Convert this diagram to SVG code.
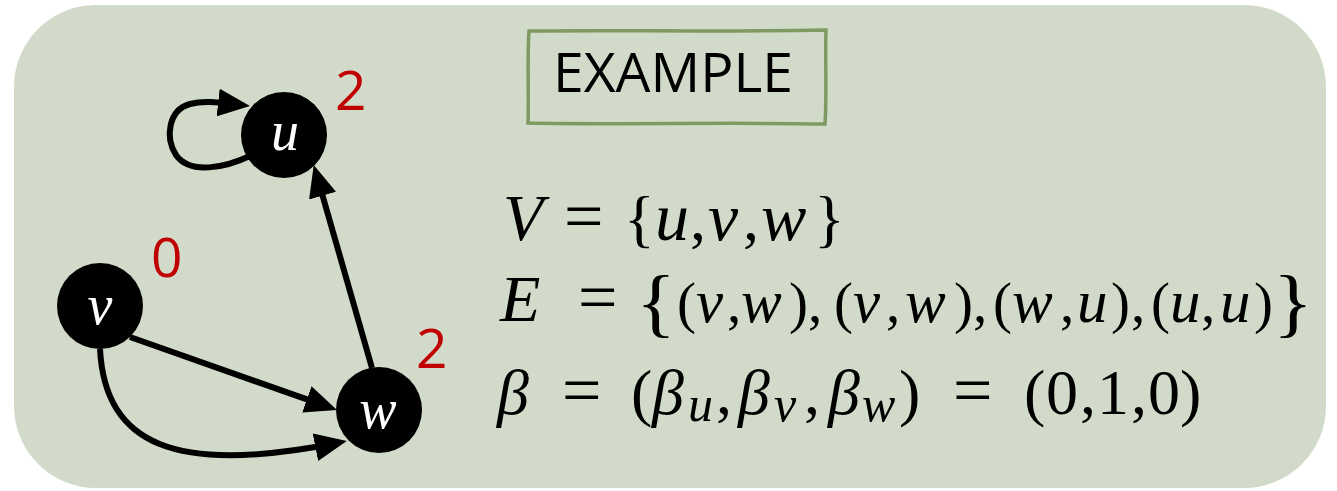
<svg xmlns="http://www.w3.org/2000/svg" width="1337" height="491" viewBox="0 0 1337 491">
<style>
.bg{fill:#D2DBC9}
.node{fill:#000}
.nl{fill:#fff;font-family:'Liberation Serif',serif;font-style:italic;font-size:56px;text-anchor:middle}
.num{fill:#C00000;font-family:'Open Sans','Liberation Sans',sans-serif;font-size:55px}
.edge{fill:none;stroke:#000;stroke-width:6}
.m{font-family:'Liberation Serif',serif;font-size:64px;fill:#000}
.i{font-family:'Liberation Serif',serif;font-style:italic}
.eq{font-size:70px}
.sub{font-family:'Liberation Serif',serif;font-size:50px;font-style:italic}
.title{font-family:'Open Sans','Liberation Sans',sans-serif;font-size:54px;fill:#000}
</style>
<defs>
<marker id="arr" markerUnits="userSpaceOnUse" markerWidth="32" markerHeight="28" viewBox="0 0 32 28" refX="22" refY="14" orient="auto">
<path d="M0,0 L32,14 L0,28 z" fill="#000"/>
</marker>
</defs>
<rect class="bg" x="14" y="5" width="1312" height="483" rx="82" ry="82"/>
<g id="title">
<path d="M529,31 C620,30 720,32 826,30 C825,60 827,95 825,124 C720,122 620,125 528,123 C529,95 527,60 529,31 z" fill="none" stroke="#7E9A60" stroke-width="3.5"/>
<text class="title" x="553" y="92" textLength="240" lengthAdjust="spacingAndGlyphs">EXAMPLE</text>
</g>
<g id="connectors">
<path class="edge" d="M372,368 L316.5,174.5" marker-end="url(#arr)"/>
<path class="edge" d="M130,337 L327.6,406.7" marker-end="url(#arr)"/>
<path class="edge" d="M100,349 C105,445 175,475 337,443" marker-end="url(#arr)"/>
<path class="edge" d="M252,155 C225,168 190,175 176,155 C165,138 168,110 190,104 C205,100 222,103 240,105" marker-end="url(#arr)"/>
</g>
<g id="node-u">
<circle class="node" cx="284" cy="135" r="43"/>
<text class="nl" x="285" y="150">u</text>
<text class="num" x="335" y="110">2</text>
</g>
<g id="node-v">
<circle class="node" cx="100" cy="306" r="43"/>
<text class="nl" x="100" y="324">v</text>
<text class="num" x="151" y="277">0</text>
</g>
<g id="node-w">
<circle class="node" cx="379" cy="410" r="43"/>
<text class="nl" x="378" y="428">w</text>
<text class="num" x="416" y="368">2</text>
</g>
<g id="formulas">
<text class="m" y="240"><tspan class="i" x="503" style="font-size:66px">V</tspan><tspan class="eq" x="564">=</tspan><tspan x="624">{</tspan><tspan class="i" x="655" style="font-size:68px">u</tspan><tspan x="690">,</tspan><tspan class="i" x="708" style="font-size:68px">v</tspan><tspan x="743">,</tspan><tspan class="i" x="761" style="font-size:68px">w</tspan><tspan x="814">}</tspan></text>
<text class="m" y="321"><tspan class="i" x="500" style="font-size:66px">E</tspan><tspan class="eq" x="578">=</tspan></text>
<text class="m" x="636" y="328" transform="translate(636 328) scale(1.3 1.2) translate(-636 -328)">{</text>
<text class="m" x="1273" y="328" transform="translate(1273 328) scale(1.3 1.2) translate(-1273 -328)">}</text>
<text class="m" y="322" style="font-size:57px"><tspan x="677">(</tspan><tspan class="i" x="696" style="font-size:61px">v</tspan><tspan x="727">,</tspan><tspan class="i" x="741" style="font-size:61px">w</tspan><tspan x="789">)</tspan><tspan x="808">,</tspan><tspan x="834">(</tspan><tspan class="i" x="853" style="font-size:61px">v</tspan><tspan x="886">,</tspan><tspan class="i" x="905" style="font-size:61px">w</tspan><tspan x="954">)</tspan><tspan x="973">,</tspan><tspan x="993">(</tspan><tspan class="i" x="1012" style="font-size:61px">w</tspan><tspan x="1060">,</tspan><tspan class="i" x="1077" style="font-size:61px">u</tspan><tspan x="1111">)</tspan><tspan x="1131">,</tspan><tspan x="1151">(</tspan><tspan class="i" x="1170" style="font-size:61px">u</tspan><tspan x="1201">,</tspan><tspan class="i" x="1220" style="font-size:61px">u</tspan><tspan x="1254">)</tspan></text>
<text class="m" y="414"><tspan class="i" x="497">β</tspan><tspan class="eq" x="562">=</tspan><tspan x="631">(</tspan><tspan class="i" x="652">β</tspan><tspan class="sub" x="688" dy="7">u</tspan><tspan x="716" dy="-7">,</tspan><tspan class="i" x="738">β</tspan><tspan class="sub" x="774" dy="7">v</tspan><tspan x="804" dy="-7">,</tspan><tspan class="i" x="828">β</tspan><tspan class="sub" x="862" dy="7">w</tspan><tspan x="899" dy="-7">)</tspan><tspan class="eq" x="953">=</tspan><tspan x="1024">(</tspan><tspan x="1046">0</tspan><tspan x="1080">,</tspan><tspan x="1097">1</tspan><tspan x="1131">,</tspan><tspan x="1148">0</tspan><tspan x="1180">)</tspan></text>
</g>
</svg>
